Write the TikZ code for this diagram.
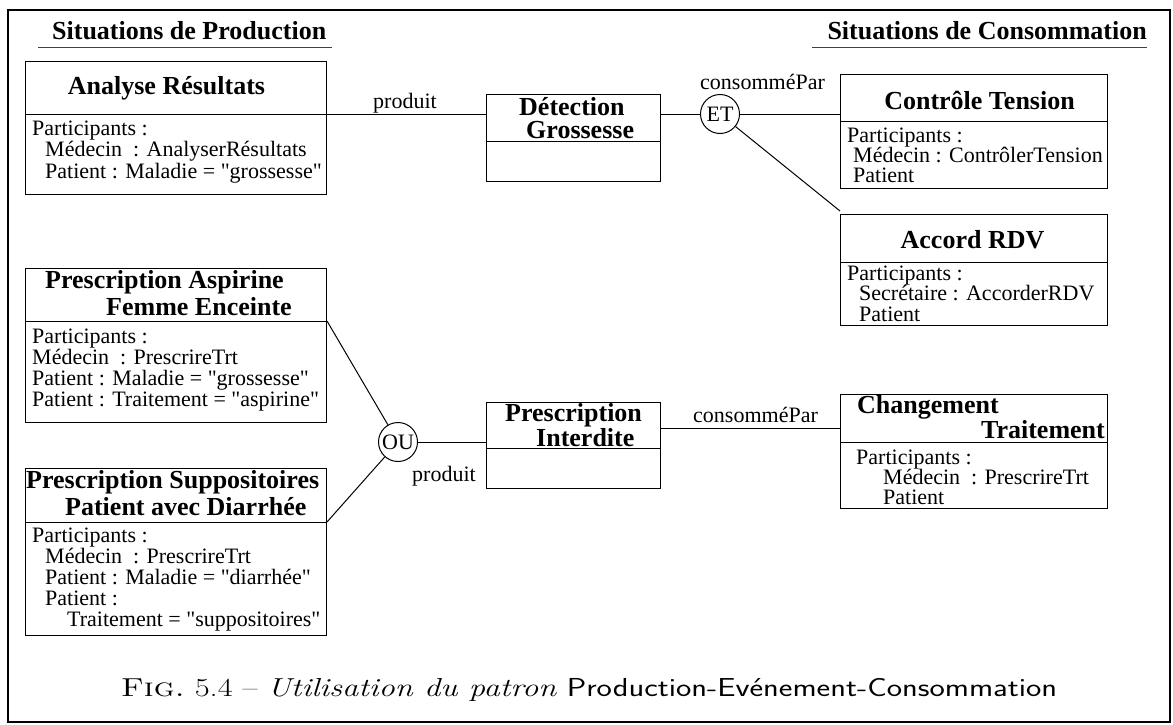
\documentclass[tikz,border=0pt]{standalone}
\usepackage{graphicx}
\usepackage{fontspec}
\newfontfamily\tms{Liberation Serif}
\begin{document}
\begin{tikzpicture}[x=1pt,y=-1pt,
  box/.style={draw, line width=1pt, inner sep=0pt, anchor=north west},
  ttl/.style={font=\tms\bfseries\fontsize{26}{22}\selectfont, inner sep=0pt},
  hdr/.style={font=\tms\bfseries\fontsize{26}{26}\selectfont, inner sep=0pt},
  body/.style={font=\tms\fontsize{22}{21.5}\selectfont, inner sep=0pt, align=left, anchor=north west},
  lbl/.style={font=\tms\fontsize{22}{22}\selectfont, inner sep=0pt, anchor=base west},
  gate/.style={draw, circle, line width=1pt, minimum size=39pt, inner sep=0pt, font=\tms\fontsize{22}{22}\selectfont},
  link/.style={line width=1pt},
  rule/.style={line width=1pt, black!75}]

\useasboundingbox (0,0) rectangle (1173,725);
\draw[line width=2.5pt] (8,10) rectangle (1170,722);

% column headings
\node[hdr, anchor=base west] (hprod) at (52,40) {Situations de Production};
\node[hdr, anchor=base east] (hcons) at (1147,40) {Situations de Consommation};
\draw[rule] (38,48) -- (332,48);
\draw[rule] (812,48) -- (1147,48);

% situation boxes and event boxes
\node[box, minimum width=301pt, minimum height=133pt] (ana) at (25,61) {};
\draw[link] (ana.west |- 0,114) -- (ana.east |- 0,114);
\node[ttl, anchor=base] (anat) at (166.5,95) {Analyse Résultats};
\node[body] (anab) at (32,120.5) {Participants :\\\hspace*{13pt}Médecin\ \ : AnalyserRésultats\\\hspace*{13pt}Patient : Maladie = "grossesse"};

\node[box, minimum width=174pt, minimum height=87pt] (det) at (486,94) {};
\draw[link] (det.west |- 0,141) -- (det.east |- 0,141);
\node[ttl, font=\tms\bfseries\fontsize{26}{23.5}\selectfont, align=left, anchor=north west] (dett) at (519,95) {\rule{0pt}{20pt}Détection\\\hspace*{7pt}Grossesse};

\node[box, minimum width=267pt, minimum height=114pt] (ctl) at (840,74) {};
\draw[link] (ctl.west |- 0,121) -- (ctl.east |- 0,121);
\node[ttl, anchor=base] (ctlt) at (979.5,109) {Contrôle Tension};
\node[body, font=\tms\fontsize{22}{20}\selectfont] (ctlb) at (847,128) {Participants :\\\hspace*{6pt}Médecin : ContrôlerTension\\\hspace*{6pt}Patient};

\node[box, minimum width=267pt, minimum height=111pt] (acc) at (840,214) {};
\draw[link] (acc.west |- 0,262) -- (acc.east |- 0,262);
\node[ttl, anchor=base] (acct) at (972.5,248) {Accord RDV};
\node[body, font=\tms\fontsize{22}{20.5}\selectfont] (accb) at (847,265.5) {Participants :\\\hspace*{12pt}Secrétaire : AccorderRDV\\\hspace*{12pt}Patient};

\node[box, minimum width=301pt, minimum height=154pt] (asp) at (25,268) {};
\draw[link] (asp.west |- 0,321) -- (asp.east |- 0,321);
\node[ttl, anchor=base west] (aspt1) at (45,288) {Prescription Aspirine};
\node[ttl, anchor=base west] (aspt2) at (106,315) {Femme Enceinte};
\node[body, font=\tms\fontsize{22}{21}\selectfont] (aspb) at (32,328.5) {Participants :\\Médecin\ \ : PrescrireTrt\\Patient : Maladie = "grossesse"\\Patient : Traitement = "aspirine"};

\node[box, minimum width=301pt, minimum height=167pt] (sup) at (25,468) {};
\draw[link] (sup.west |- 0,522) -- (sup.east |- 0,522);
\node[ttl, anchor=base west] (supt1) at (26,488) {Prescription Suppositoires};
\node[ttl, anchor=base west] (supt2) at (65,515) {Patient avec Diarrhée};
\node[body, font=\tms\fontsize{22}{21}\selectfont] (supb) at (32,527.5) {Participants :\\\hspace*{13pt}Médecin\ \ : PrescrireTrt\\\hspace*{13pt}Patient : Maladie = "diarrhée"\\\hspace*{13pt}Patient :\\\hspace*{35pt}Traitement = "suppositoires"};

\node[box, minimum width=174pt, minimum height=86pt] (int) at (486,402) {};
\draw[link] (int.west |- 0,448) -- (int.east |- 0,448);
\node[ttl, align=left, anchor=north west] (intt) at (505,401.5) {\rule{0pt}{20pt}Prescription\\\hspace*{31pt}Interdite};

\node[box, minimum width=267pt, minimum height=114pt] (chg) at (840,394) {};
\draw[link] (chg.west |- 0,442) -- (chg.east |- 0,442);
\node[ttl, anchor=base west] (chgt1) at (857,413) {Changement};
\node[ttl, anchor=base east] (chgt2) at (1105,438) {Traitement};
\node[body, font=\tms\fontsize{22}{20}\selectfont] (chgb) at (856,449.5) {Participants :\\\hspace*{27pt}Médecin\ \ : PrescrireTrt\\\hspace*{27pt}Patient};

% combination gates
\node[gate] (et) at (720,114) {ET};
\node[gate] (ou) at (398,442) {OU};

% relation labels
\node[lbl] (prod1) at (373,108) {produit};
\node[lbl] (cons1) at (700,89) {consomméPar};
\node[lbl] (prod2) at (412,481) {produit};
\node[lbl] (cons2) at (693,422) {consomméPar};

% connectors
\draw[link] (ana.east |- 0,114) -- (det.west |- 0,114);
\draw[link] (det.east |- et.west) -- (et.west);
\draw[link] (et.east) -- (ctl.west |- et.east);
\draw[link] (et) -- ([yshift=3pt]acc.north west);
\draw[link] (ou) -- (asp.east |- 0,321);
\draw[link] (ou) -- (sup.east |- 0,522);
\draw[link] (ou.east) -- (int.west |- ou.east);
\draw[link] (int.east |- 0,428) -- (chg.west |- 0,428);

% caption
\node[font=\fontsize{26}{26}\selectfont, inner sep=0pt, anchor=base] (cap) at (589,696) {\scalebox{1.25}[1]{\textsc{Fig.}~5.4 -- \textit{Utilisation du patron} \textsf{Production-Evénement-Consommation}}};
\end{tikzpicture}
\end{document}
